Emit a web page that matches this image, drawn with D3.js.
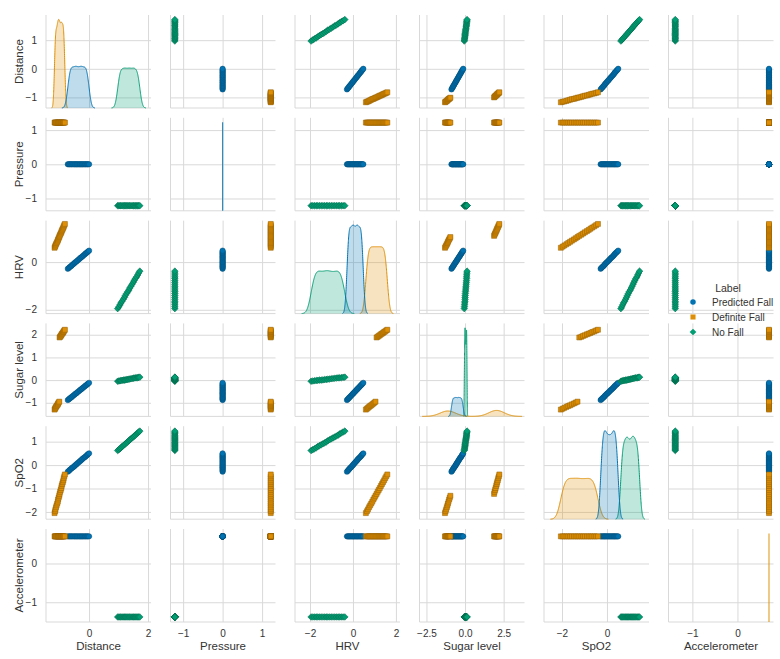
<!DOCTYPE html>
<html><head><meta charset="utf-8">
<script src="https://cdn.jsdelivr.net/npm/d3@7"></script>
<style>
body{margin:0;background:#fff}
text{font-family:Arial,"Liberation Sans",sans-serif;fill:#333}
</style>
</head><body>
<svg id="c" width="780" height="659"></svg>
<script>
// ---------------- data ----------------
const variables = ["Distance","Pressure","HRV","Sugar level","SpO2","Accelerometer"];
const labels = ["Predicted Fall","Definite Fall","No Fall"];
const colors = ["#0173B2","#DE8F05","#029E73"];
const markers = ["circle","square","diamond"];

// Predicted Fall
const pfDistance = [-0.72,-0.68,-0.65,-0.61,-0.58,-0.54,-0.50,-0.47,-0.43,-0.40,-0.36,-0.32,-0.29,-0.25,-0.22,-0.18,-0.14,-0.11,-0.07,-0.04,0.00];
const pfPressure = [0,0,0,0,0,0,0,0,0,0,0,0,0,0,0,0,0,0,0,0,0];
const pfHRV      = [-0.28,-0.24,-0.20,-0.17,-0.13,-0.09,-0.05,-0.01,0.02,0.06,0.10,0.14,0.18,0.21,0.25,0.29,0.33,0.37,0.40,0.44,0.48];
const pfSugar    = [-0.88,-0.84,-0.80,-0.77,-0.73,-0.69,-0.65,-0.61,-0.58,-0.54,-0.50,-0.46,-0.42,-0.39,-0.35,-0.31,-0.27,-0.23,-0.20,-0.16,-0.12];
const pfSpO2     = [-0.28,-0.24,-0.20,-0.16,-0.12,-0.09,-0.05,-0.01,0.03,0.07,0.11,0.15,0.19,0.23,0.27,0.31,0.34,0.38,0.42,0.46,0.50];
const pfAccel    = [0.70,0.70,0.70,0.70,0.70,0.70,0.70,0.70,0.70,0.70,0.70,0.70,0.70,0.70,0.70,0.70,0.70,0.70,0.70,0.70,0.70];

// Definite Fall
const dfDistance = [-1.17,-1.15,-1.14,-1.12,-1.10,-1.08,-1.06,-1.05,-1.03,-1.01,-1.00,-0.98,-0.96,-0.94,-0.93,-0.91,-0.89,-0.87,-0.86,-0.84,-0.82];
const dfPressure = [1.22,1.22,1.22,1.22,1.22,1.22,1.22,1.22,1.22,1.22,1.22,1.22,1.22,1.22,1.22,1.22,1.22,1.22,1.22,1.22,1.22];
const dfHRV      = [0.60,0.65,0.70,0.75,0.80,0.85,0.90,0.95,1.00,1.05,1.10,1.15,1.20,1.25,1.30,1.35,1.40,1.45,1.50,1.55,1.60];
const dfSugar    = [-1.30,-1.26,-1.22,-1.18,-1.14,-1.11,-1.07,-1.03,-0.99,-0.95,1.88,1.91,1.95,1.98,2.02,2.05,2.08,2.12,2.15,2.19,2.22];
const dfSpO2     = [-2.05,-1.97,-1.89,-1.80,-1.72,-1.64,-1.56,-1.47,-1.39,-1.31,-1.23,-1.14,-1.06,-0.98,-0.89,-0.81,-0.73,-0.65,-0.56,-0.48,-0.40];
const dfAccel    = [0.70,0.70,0.70,0.70,0.70,0.70,0.70,0.70,0.70,0.70,0.70,0.70,0.70,0.70,0.70,0.70,0.70,0.70,0.70,0.70,0.70];

// No Fall
const nfDistance = [0.97,1.01,1.05,1.08,1.12,1.16,1.20,1.23,1.27,1.31,1.35,1.38,1.42,1.46,1.50,1.53,1.57,1.61,1.65,1.68,1.72];
const nfPressure = [-1.21,-1.21,-1.21,-1.21,-1.21,-1.21,-1.21,-1.21,-1.21,-1.21,-1.21,-1.21,-1.21,-1.21,-1.21,-1.21,-1.21,-1.21,-1.21,-1.21,-1.21];
const nfHRV      = [-1.95,-1.87,-1.79,-1.71,-1.64,-1.56,-1.48,-1.40,-1.32,-1.24,-1.17,-1.09,-1.01,-0.93,-0.85,-0.77,-0.69,-0.62,-0.54,-0.46,-0.38];
const nfSugar    = [-0.05,-0.04,-0.03,-0.02,-0.01,0.00,0.00,0.01,0.02,0.03,0.04,0.05,0.06,0.07,0.08,0.09,0.10,0.10,0.11,0.12,0.13];
const nfSpO2     = [0.62,0.66,0.70,0.74,0.79,0.83,0.87,0.91,0.95,0.99,1.04,1.08,1.12,1.16,1.20,1.24,1.28,1.33,1.37,1.41,1.45];
const nfAccel    = [-1.38,-1.38,-1.38,-1.38,-1.38,-1.38,-1.38,-1.38,-1.38,-1.38,-1.38,-1.38,-1.38,-1.38,-1.38,-1.38,-1.38,-1.38,-1.38,-1.38,-1.38];

// near-constant columns that show as a thin spike on the diagonal
const diagSpikes = [["Pressure","Predicted Fall"],["Accelerometer","Definite Fall"]];

// axis ticks per variable
const xTickValues = [[0,2],[-1,0,1],[-2,0,2],[-2.5,0,2.5],[-2,0],[-1,0]];
const yTickValues = [[-1,0,1],[-1,0,1],[-2,0],[-1,0,1,2],[-2,-1,0,1],[-1,0]];

// ---------------- layout / style ----------------
const xDomains = [[-1.46,2.1],[-1.32,1.34],[-2.7,2.19],[-2.95,3.85],[-2.8,1.87],[-1.53,0.8]];
const yDomains = [[-1.37,1.88],[-1.36,1.36],[-2.16,1.74],[-1.6,2.5],[-2.31,1.66],[-1.51,0.89]];
const colX0 = 46, colPitch = 124.5, panelW = 105;
const rowY0 = 15, rowPitch = 102.8, panelH = 93;
const gridColor = "#d9d9d9";
const kdeSampleSize = 400; // nominal sample size for Scott's bandwidth

const classData = [
  [pfDistance,pfPressure,pfHRV,pfSugar,pfSpO2,pfAccel],
  [dfDistance,dfPressure,dfHRV,dfSugar,dfSpO2,dfAccel],
  [nfDistance,nfPressure,nfHRV,nfSugar,nfSpO2,nfAccel]
];

const svg = d3.select("#c");

function symbolPath(kind, s) {
  if (kind === "circle") return d3.symbol(d3.symbolCircle, s*s*0.785)();
  return d3.symbol(d3.symbolSquare, s*s*(kind==="diamond"?0.75:0.85))();
}
function markerTransform(kind, x, y) {
  return `translate(${x},${y})` + (kind === "diamond" ? " rotate(45)" : "");
}

// Gaussian KDE; the sampled points trace a continuous run, so the two
// extreme samples get half weight (trapezoid rule) to avoid edge horns.
function kde(values, weight) {
  const sorted = values.slice().sort(d3.ascending);
  const n = sorted.length;
  const sd = d3.deviation(sorted);
  if (!sd || sd < 1e-9) return null;
  const bw = sd * Math.pow(kdeSampleSize, -0.2);
  const w = sorted.map((v, i) => (i === 0 || i === n - 1) ? 0.5 : 1);
  const wSum = d3.sum(w);
  const lo = sorted[0] - 3*bw, hi = sorted[n-1] + 3*bw;
  const pts = [];
  const N = 300;
  for (let i = 0; i <= N; i++) {
    const x = lo + (hi - lo) * i / N;
    let s = 0;
    for (let j = 0; j < n; j++) { const z = (x - sorted[j]) / bw; s += w[j] * Math.exp(-0.5*z*z); }
    pts.push([x, weight * s / (wSum * bw * Math.sqrt(2*Math.PI))]);
  }
  return pts;
}

const totalCount = d3.sum(classData, c => c[0].length);

variables.forEach((rowVar, r) => {
  variables.forEach((colVar, c) => {
    const x0 = colX0 + c*colPitch, y0 = rowY0 + r*rowPitch;
    const xs = d3.scaleLinear().domain(xDomains[c]).range([x0, x0 + panelW]);
    const ys = d3.scaleLinear().domain(yDomains[r]).range([y0 + panelH, y0]);
    const g = svg.append("g");

    // grid lines via axes
    g.append("g").attr("transform", `translate(0,${y0 + panelH})`)
      .call(d3.axisBottom(xs).tickValues(xTickValues[c]).tickSize(-panelH).tickFormat(""))
      .call(a => { a.select(".domain").remove(); a.selectAll("line").attr("stroke", gridColor); });
    g.append("g").attr("transform", `translate(${x0},0)`)
      .call(d3.axisLeft(ys).tickValues(yTickValues[r]).tickSize(-panelW).tickFormat(""))
      .call(a => { a.select(".domain").remove(); a.selectAll("line").attr("stroke", gridColor); });

    // spines
    g.append("line").attr("x1", x0).attr("x2", x0).attr("y1", y0).attr("y2", y0 + panelH).attr("stroke", gridColor);
    g.append("line").attr("x1", x0).attr("x2", x0 + panelW).attr("y1", y0 + panelH).attr("y2", y0 + panelH).attr("stroke", gridColor);

    if (r === c) {
      // diagonal: KDE with common normalisation
      const curves = classData.map((cd, k) => kde(cd[c], cd[c].length / totalCount));
      const maxD = d3.max(curves.filter(Boolean), cv => d3.max(cv, p => p[1])) || 1;
      const yd = d3.scaleLinear().domain([0, maxD * 1.05]).range([y0 + panelH, y0]);
      const area = d3.area().x(p => xs(p[0])).y0(y0 + panelH).y1(p => yd(p[1]));
      const line = d3.line().x(p => xs(p[0])).y(p => yd(p[1]));
      for (let k = labels.length - 1; k >= 0; k--) {
        const cv = curves[k];
        if (!cv) continue;
        g.append("path").attr("d", area(cv)).attr("fill", colors[k]).attr("fill-opacity", 0.25);
        g.append("path").attr("d", line(cv)).attr("fill", "none").attr("stroke", colors[k]).attr("stroke-width", 1);
      }
      diagSpikes.filter(s => s[0] === colVar).forEach(s => {
        const k = labels.indexOf(s[1]);
        const v = d3.mean(classData[k][c]);
        g.append("line").attr("x1", xs(v)).attr("x2", xs(v))
          .attr("y1", y0 + panelH).attr("y2", y0 + panelH - panelH / 1.05)
          .attr("stroke", colors[k]).attr("stroke-opacity", 0.8).attr("stroke-width", 1.2);
      });
    } else {
      classData.forEach((cd, k) => {
        const xsV = cd[c], ysV = cd[r];
        g.append("g").selectAll("path").data(d3.range(xsV.length)).join("path")
          .attr("d", symbolPath(markers[k], 5.4))
          .attr("transform", i => markerTransform(markers[k], xs(xsV[i]), ys(ysV[i])))
          .attr("fill", colors[k])
          .attr("stroke", d3.color(colors[k]).darker(1.2))
          .attr("stroke-width", 0.5);
      });
    }

    // tick labels
    if (r === variables.length - 1) {
      const fmt = c === 3 ? d3.format(".1f") : d3.format("d");
      g.append("g").attr("transform", `translate(0,${y0 + panelH})`)
        .call(d3.axisBottom(xs).tickValues(xTickValues[c]).tickSize(0).tickPadding(8).tickFormat(fmt))
        .call(a => { a.select(".domain").remove(); a.selectAll("text").attr("font-size", 10).attr("font-family", null).attr("fill", "#444"); });
      svg.append("text").attr("x", x0 + panelW / 2).attr("y", 650).attr("text-anchor", "middle")
        .attr("font-size", 11.5).attr("fill", "#333").text(colVar);
    }
    if (c === 0) {
      g.append("g").attr("transform", `translate(${x0},0)`)
        .call(d3.axisLeft(ys).tickValues(yTickValues[r]).tickSize(0).tickPadding(9).tickFormat(d3.format("d")))
        .call(a => { a.select(".domain").remove(); a.selectAll("text").attr("font-size", 10).attr("font-family", null).attr("fill", "#444"); });
      svg.append("text").attr("transform", `translate(23,${y0 + panelH / 2}) rotate(-90)`)
        .attr("text-anchor", "middle").attr("font-size", 11.5).attr("fill", "#333").text(rowVar);
    }
  });
});

// legend
const lg = svg.append("g");
lg.append("text").attr("x", 728).attr("y", 291.5).attr("text-anchor", "middle").attr("font-size", 10.5).attr("fill", "#333").text("Label");
labels.forEach((lab, k) => {
  const cy = 302 + k * 15;
  lg.append("path").attr("d", symbolPath(markers[k], 5.5))
    .attr("transform", markerTransform(markers[k], 693, cy))
    .attr("fill", colors[k]);
  lg.append("text").attr("x", 712).attr("y", cy + 3.5).attr("font-size", 10).attr("fill", "#333").text(lab);
});
</script>
</body></html>
